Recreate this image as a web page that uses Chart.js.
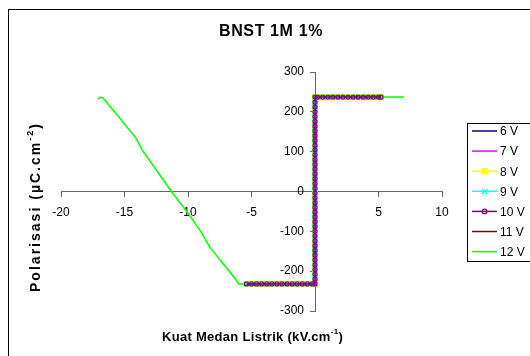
<!DOCTYPE html>
<html>
<head>
<meta charset="utf-8">
<script src="https://cdn.jsdelivr.net/npm/chart.js@4.4.0/dist/chart.umd.min.js"></script>
<style>
  html, body { margin: 0; padding: 0; background: #fff; }
  canvas { display: block; }
</style>
</head>
<body>
<canvas id="chart" width="530" height="356"></canvas>
<script>
// series names + colours (Excel default palette)
const seriesNames = ["6 V", "7 V", "8 V", "9 V", "10 V", "11 V", "12 V"];
const seriesColors = ["#000080", "#FF00FF", "#FFFF00", "#00FFFF", "#800080", "#800000", "#00FF00"];

// 6 V .. 11 V all sit on the same square loop
const loopE = [-5.4, -5.0, -4.6, -4.2, -3.8, -3.4, -3.0, -2.6, -2.2, -1.8, -1.4, -1.0, -0.6, -0.2,
  0.0, 0.0, 0.0, 0.0, 0.0, 0.0, 0.0, 0.0, 0.0, 0.0, 0.0, 0.0, 0.0, 0.0, 0.0, 0.0, 0.0, 0.0, 0.0, 0.0,
  0.0, 0.0, 0.0, 0.0, 0.0, 0.0, 0.0, 0.0, 0.0, 0.0, 0.0, 0.0, 0.0, 0.0, 0.0, 0.0, 0.0, 0.0, 0.0, 0.0,
  0.2, 0.6, 1.0, 1.4, 1.8, 2.2, 2.6, 3.0, 3.4, 3.8, 4.2, 4.6, 5.0, 5.2];
const loopP = [-232, -232, -232, -232, -232, -232, -232, -232, -232, -232, -232, -232, -232, -232,
  -232, -220, -208, -196, -184, -172, -160, -148, -136, -124, -112, -100, -88, -76, -64, -52, -40, -28, -16, -4,
  8, 20, 32, 44, 56, 68, 80, 92, 104, 116, 128, 140, 152, 164, 176, 188, 200, 212, 224, 237,
  237, 237, 237, 237, 237, 237, 237, 237, 237, 237, 237, 237, 237, 237];

// 12 V
const greenE = [-17.1, -16.9, -16.7, -14.4, -14.1, -13.6, -11.3, -9.8, -8.9, -8.3, -8.0, -6.4, -6.0,
  -5.0, -4.0, -3.0, -2.0, -1.0, 0.0, 0.0, 1.0, 2.0, 3.0, 4.0, 5.0, 6.0, 7.0];
const greenP = [232, 237, 235, 146, 134, 104, 0, -63, -105, -139, -151, -214, -232,
  -232, -232, -232, -232, -232, -232, 237, 237, 237, 237, 237, 237, 237, 237];

const markerStyles = [false, false, "rect", "crossRot", "circle", false, false];
const drawOrder = [3, 4, 2, 1, 0, 5, 6];

function pts(xs, ys) {
  return xs.map(function (x, i) { return { x: x, y: ys[i] }; });
}

const FONT = "'Liberation Sans', Arial, sans-serif";

const datasets = seriesNames.map(function (name, i) {
  const last = i === seriesNames.length - 1;
  const ms = markerStyles[i];
  return {
    label: name,
    data: last ? pts(greenE, greenP) : pts(loopE, loopP),
    borderColor: seriesColors[i],
    backgroundColor: ms === "circle" ? "rgba(255,255,255,0)" : seriesColors[i],
    borderWidth: 1.5,
    showLine: true,
    pointStyle: ms || "circle",
    pointRadius: ms === "circle" ? 2 : (ms ? 3.5 : 0),
    pointBorderWidth: ms === "circle" ? 1.3 : 1.2,
    pointHoverRadius: 0,
    order: drawOrder[i]
  };
});

// draws "main" + superscript + "tail", centred at (cx, cy), stretched to width w
function supText(ctx, parts, cx, cy, size, w) {
  const big = "bold " + size + "px " + FONT;
  const small = "bold " + Math.round(size * 0.62) + "px " + FONT;
  ctx.letterSpacing = "0px";
  ctx.font = big;
  const w0 = ctx.measureText(parts[0]).width;
  const w2 = ctx.measureText(parts[2]).width;
  ctx.font = small;
  const w1 = ctx.measureText(parts[1]).width;
  const n = parts[0].length + parts[1].length + parts[2].length;
  const ls = Math.max(0, (w - (w0 + w1 + w2)) / n);
  ctx.letterSpacing = ls + "px";
  let x = cx - w / 2;
  ctx.textAlign = "left";
  ctx.textBaseline = "middle";
  ctx.font = big;
  ctx.fillText(parts[0], x, cy);
  x += w0 + ls * parts[0].length;
  ctx.font = small;
  ctx.fillText(parts[1], x, cy - size * 0.42);
  x += w1 + ls * parts[1].length;
  ctx.font = big;
  ctx.fillText(parts[2], x, cy);
  ctx.letterSpacing = "0px";
}

const decor = {
  id: "decor",
  afterDraw: function (chart) {
    const ctx = chart.ctx;
    const ys = chart.scales.y;
    const xs = chart.scales.x;
    ctx.save();
    // chart area border (only top/left visible)
    ctx.strokeStyle = "#000";
    ctx.lineWidth = 1;
    ctx.strokeRect(8.5, 9.5, 600, 400);

    // y tick labels, left of the crossing axis
    const axisX = xs.getPixelForValue(0);
    ctx.fillStyle = "#000";
    ctx.font = "12px " + FONT;
    ctx.textAlign = "right";
    ctx.textBaseline = "middle";
    ys.ticks.forEach(function (t) {
      ctx.fillText(String(t.value), axisX - 11, ys.getPixelForValue(t.value));
    });

    supText(ctx, ["BNST 1M 1%", "", ""], 271, 32, 16, 104);

    supText(ctx, ["Kuat Medan Listrik (kV.cm", "-1", ")"], 252.5, 337, 13, 181);

    ctx.save();
    ctx.translate(36, 207);
    ctx.rotate(-Math.PI / 2);
    supText(ctx, ["Polarisasi (\u00B5C.cm", "-2", ")"], 0, 0, 14, 170);
    ctx.restore();

    // legend
    ctx.strokeStyle = "#000";
    ctx.lineWidth = 1;
    ctx.strokeRect(467.5, 123.5, 100, 138);
    chart.data.datasets.forEach(function (ds, i) {
      const y = 131 + i * 20.1;
      ctx.strokeStyle = ds.borderColor;
      ctx.lineWidth = 1.5;
      ctx.beginPath();
      ctx.moveTo(472, y);
      ctx.lineTo(497, y);
      ctx.stroke();
      if (ds.pointRadius > 0) {
        ctx.fillStyle = ds.backgroundColor;
        ctx.strokeStyle = ds.borderColor;
        ctx.lineWidth = ds.pointBorderWidth;
        Chart.helpers.drawPoint(ctx, {
          pointStyle: ds.pointStyle,
          radius: ds.pointRadius + 0.3,
          borderWidth: ds.pointBorderWidth,
          rotation: 0
        }, 484.5, y);
      }
      ctx.fillStyle = "#000";
      ctx.font = "12px " + FONT;
      ctx.textAlign = "left";
      ctx.textBaseline = "middle";
      ctx.fillText(ds.label, 500, y + 1);
    });
    ctx.restore();
  }
};

const axisCommon = {
  type: "linear",
  border: { color: "#666", width: 1 },
  grid: { drawOnChartArea: false, drawTicks: true, tickLength: 5, color: "#666" },
  ticks: { color: "#000", font: { family: FONT, size: 12 } }
};

new Chart(document.getElementById("chart"), {
  type: "scatter",
  data: { datasets: datasets },
  options: {
    responsive: false,
    animation: false,
    devicePixelRatio: 1,
    layout: { padding: { left: 61, right: 88, top: 72, bottom: 45 } },
    plugins: { legend: { display: false }, title: { display: false }, tooltip: { enabled: false } },
    elements: { line: { tension: 0 } },
    scales: {
      x: Object.assign({}, axisCommon, {
        min: -20, max: 10,
        position: { y: 0 },
        ticks: Object.assign({}, axisCommon.ticks, { stepSize: 5, maxRotation: 0, padding: 9 })
      }),
      y: Object.assign({}, axisCommon, {
        min: -300, max: 300,
        position: { x: 0 },
        ticks: Object.assign({}, axisCommon.ticks, { stepSize: 100, display: false })
      })
    }
  },
  plugins: [decor]
});
</script>
</body>
</html>
